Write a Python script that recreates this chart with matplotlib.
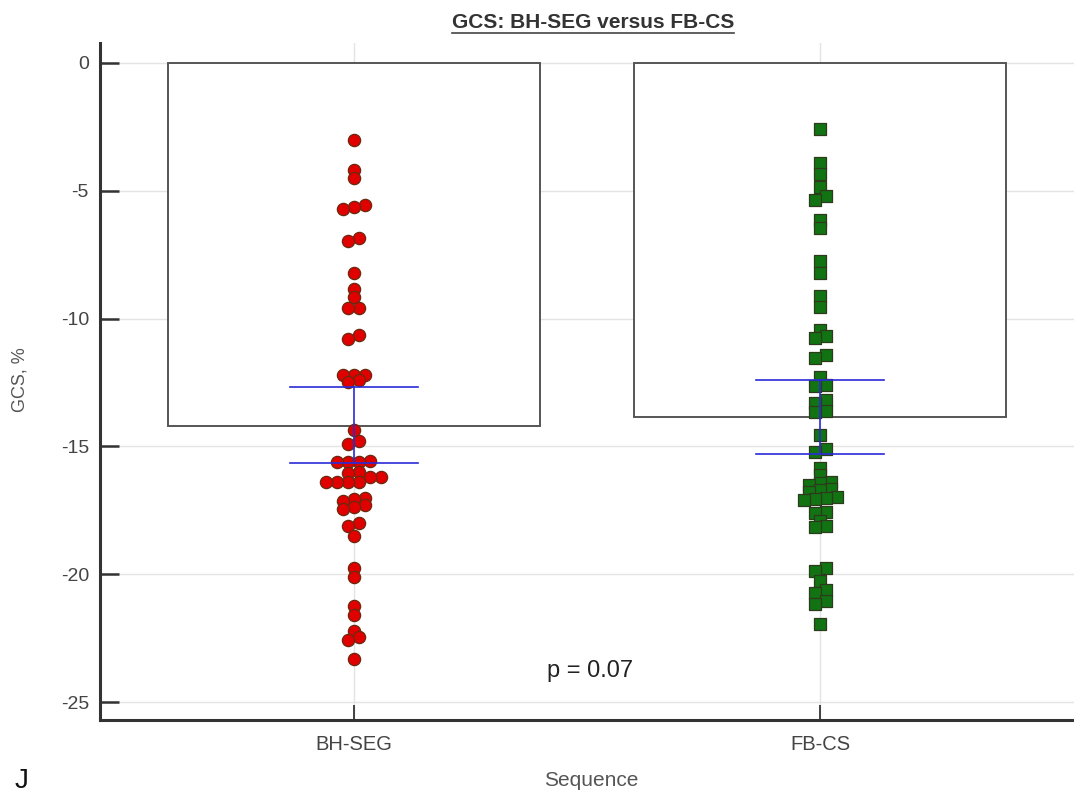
"""
Dot-and-bar plot: GCS for BH-SEG versus FB-CS sequences.
"""

import numpy as np
import matplotlib
matplotlib.use("Agg")
import matplotlib.pyplot as plt
from matplotlib.lines import Line2D

categories = ["BH-SEG", "FB-CS"]

bh_seg = [-3.0, -4.2, -4.5, -5.56, -5.65, -5.7, -6.85, -6.97, -8.2, -8.85,
          -9.15, -9.6, -9.6, -10.65, -10.78, -12.2, -12.2, -12.2, -12.42,
          -12.47, -14.35, -14.8, -14.9, -15.55, -15.6, -15.6, -15.6, -16.0,
          -16.05, -16.2, -16.2, -16.4, -16.4, -16.4, -16.4, -17.0, -17.07,
          -17.14, -17.3, -17.35, -17.44, -18.0, -18.1, -18.5, -19.75, -20.1,
          -21.25, -21.6, -22.2, -22.45, -22.58, -23.3]

fb_cs = [-2.6, -3.9, -4.35, -4.85, -5.22, -5.35, -6.15, -6.45, -7.75, -8.2,
         -9.1, -9.55, -10.45, -10.68, -10.77, -11.42, -11.55, -12.3, -12.6,
         -12.65, -13.2, -13.3, -13.6, -13.65, -14.55, -15.1, -15.22, -15.84,
         -16.12, -16.4, -16.44, -16.5, -16.68, -16.72, -16.78, -16.96, -17.0,
         -17.05, -17.1, -17.55, -17.6, -17.93, -18.13, -18.15, -19.77, -19.86,
         -20.25, -20.62, -20.75, -21.05, -21.18, -21.95]

bar_means = [-14.2, -13.85]
ci_low = [-15.65, -15.28]
ci_high = [-12.68, -12.4]
p_text = "p = 0.07"

plt.rcParams["font.family"] = ["Liberation Sans", "DejaVu Sans"]

W, H = 1074, 798
fig = plt.figure(figsize=(W / 100, H / 100), dpi=100)
ax = fig.add_axes([100 / W, 1 - 720 / H, (W - 100) / W, (720 - 43) / H])

xlim = (0.455, 2.545)
ylim = (-25.70, 0.78)
ax.set_xlim(*xlim)
ax.set_ylim(*ylim)

xpos = np.arange(1, len(categories) + 1)

# grid
for yv in range(0, -30, -5):
    ax.axhline(yv, color="#e4e4e4", lw=1.0, zorder=0)
for xv in xpos:
    ax.axvline(xv, color="#e4e4e4", lw=1.0, zorder=0)

# bars from 0 down to mean
ax.bar(xpos, bar_means, width=0.8, color="white", edgecolor="#555555",
       linewidth=1.4, zorder=1)

# dot layout: near-equal values share a centred row; a row slides
# sideways by whole marker widths if it would sit on the row above
px_x = (W - 100) / (xlim[1] - xlim[0])
px_y = (720 - 43) / (ylim[1] - ylim[0])
d_px = 11.0


def dot_offsets(values, tol=0.15, min_gap=7.0):
    values = np.asarray(values)
    order = np.argsort(-values)
    rows, cur = [], [order[0]]
    for i in order[1:]:
        if values[cur[0]] - values[i] <= tol:
            cur.append(i)
        else:
            rows.append(cur)
            cur = [i]
    rows.append(cur)

    offs = np.zeros(len(values))
    placed = []
    for r in rows:
        n = len(r)
        # highest value goes on the right
        base = [((n - 1) / 2 - j) * d_px for j in range(n)]
        ys = [values[i] * px_y for i in r]
        chosen = base
        for k in [0, 1, -1, 2, -2, 3, -3]:
            xs = [b + k * d_px for b in base]
            ok = all((x - a) ** 2 + (y - b) ** 2 >= min_gap ** 2
                     for x, y in zip(xs, ys) for a, b in placed)
            if ok:
                chosen = xs
                break
        for i, x, y in zip(r, chosen, ys):
            placed.append((x, y))
            offs[i] = x / px_x
    return offs


series = [bh_seg, fb_cs]
styles = [dict(marker="o", c="#e00000", s=78, edgecolors="#6a2a10"),
          dict(marker="s", c="#127312", s=72, edgecolors="#2e3a1e")]
for xc, vals, st in zip(xpos, series, styles):
    ax.scatter(xc + dot_offsets(vals), vals, linewidths=0.9, zorder=3, **st)

# blue interval lines
cap = 0.1375
for xc, lo, hi in zip(xpos, ci_low, ci_high):
    ax.plot([xc, xc], [lo, hi], color="#2a2ad8", lw=1.2, zorder=4)
    ax.plot([xc - cap, xc + cap], [lo, lo], color="#2a2ad8", lw=1.2, zorder=4)
    ax.plot([xc - cap, xc + cap], [hi, hi], color="#2a2ad8", lw=1.2, zorder=4)

ax.text(1.506, -23.8, p_text, fontsize=17, color="#222222",
        ha="center", va="center", zorder=5)

# axes styling
for side in ["top", "right"]:
    ax.spines[side].set_visible(False)
for side in ["left", "bottom"]:
    ax.spines[side].set_linewidth(2.2)
    ax.spines[side].set_color("#333333")

ax.set_yticks(range(0, -30, -5))
ax.set_yticklabels([str(v) for v in range(0, -30, -5)])
ax.set_xticks(xpos)
ax.set_xticklabels(categories)
ax.tick_params(axis="y", direction="in", length=14, width=1.8,
               color="#333333", labelsize=14, labelcolor="#444444", pad=8)
ax.tick_params(axis="x", direction="in", length=11, width=1.3,
               color="#333333", labelsize=14.5, labelcolor="#444444", pad=11)

fig.text(20 / W, 1 - 380 / H, "GCS, %", rotation=90, fontsize=13,
         color="#555555", ha="center", va="center")
fig.text(591 / W, 1 - 780 / H, "Sequence", fontsize=15,
         color="#555555", ha="center", va="center")
fig.text(22 / W, 1 - 781 / H, "J", fontsize=20, color="#111111",
         ha="center", va="center")

title = fig.text(593 / W, 1 - 22 / H, "GCS: BH-SEG versus FB-CS",
                 fontsize=15, fontweight="bold",
                 color="#333333", ha="center", va="center")
fig.canvas.draw()
bb = title.get_window_extent().transformed(fig.transFigure.inverted())
fig.add_artist(Line2D([bb.x0, bb.x1], [bb.y0 - 0.002, bb.y0 - 0.002],
                      transform=fig.transFigure, color="#444444", lw=1.2))

fig.savefig("out.png", dpi=100)
